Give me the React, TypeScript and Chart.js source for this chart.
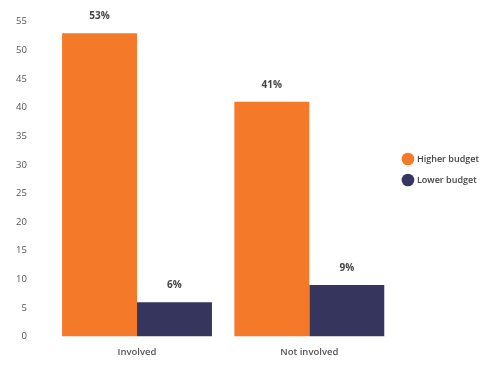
import React, { useEffect, useRef } from "react";
import { Chart, registerables } from "chart.js";

Chart.register(...registerables);

const categories = ["Involved", "Not involved"];
const seriesNames = ["Higher budget", "Lower budget"];
const higherBudget = [53, 41];
const lowerBudget = [6, 9];
const yTicksMax = 55;
const yStep = 5;
const colors = ["#F47A2A", "#35355E"];

const FONT = "'Open Sans', 'Noto Sans', sans-serif";

const valueLabels = {
  id: "valueLabels",
  afterDatasetsDraw(chart: any) {
    const ctx = chart.ctx;
    ctx.save();
    ctx.font = `700 10px ${FONT}`;
    ctx.fillStyle = "#444";
    ctx.textAlign = "center";
    ctx.textBaseline = "middle";
    chart.data.datasets.forEach((ds: any, i: number) => {
      const meta = chart.getDatasetMeta(i);
      meta.data.forEach((bar: any, j: number) => {
        ctx.fillText(ds.data[j] + "%", bar.x, bar.y - 17);
      });
    });
    ctx.restore();
  },
};

const legendShift = {
  id: "legendShift",
  afterLayout(chart: any) {
    const lg = chart.legend;
    if (lg) {
      lg.top -= 14;
      lg.bottom -= 14;
      lg.left -= 4;
      lg.right -= 4;
    }
  },
};

export default function App() {
  const ref = useRef<HTMLCanvasElement>(null);
  useEffect(() => {
    const chart = new Chart(ref.current!, {
      type: "bar",
      data: {
        labels: categories,
        datasets: [
          { label: seriesNames[0], data: higherBudget, backgroundColor: colors[0] },
          { label: seriesNames[1], data: lowerBudget, backgroundColor: colors[1] },
        ],
      },
      options: {
        animation: false,
        responsive: false,
        layout: { padding: { top: 7, left: 0, right: 8, bottom: 11 } },
        datasets: {
          bar: { categoryPercentage: 0.87, barPercentage: 1.0 },
        },
        scales: {
          x: {
            grid: { display: false },
            border: { display: false },
            ticks: { color: "#555", font: { family: FONT, size: 9.5, weight: "600" }, padding: 2 },
          },
          y: {
            min: 0,
            max: yTicksMax,
            grid: { display: false },
            border: { display: false },
            ticks: {
              stepSize: yStep,
              color: "#555",
              font: { family: FONT, size: 9.5 },
              padding: 16,
            },
          },
        },
        plugins: {
          tooltip: { enabled: false },
          legend: {
            position: "right",
            labels: {
              usePointStyle: true,
              pointStyle: "circle",
              boxWidth: 11,
              boxHeight: 11,
              padding: 12,
              color: "#444",
              font: { family: FONT, size: 9, weight: "600" },
            },
          },
        },
      },
      plugins: [valueLabels, legendShift],
    });
    return () => chart.destroy();
  }, []);
  return (
    <div style={{ position: "fixed", left: 0, top: 0, width: 501, height: 371, background: "#fff" }}>
      <canvas ref={ref} width={501} height={371} />
    </div>
  );
}
